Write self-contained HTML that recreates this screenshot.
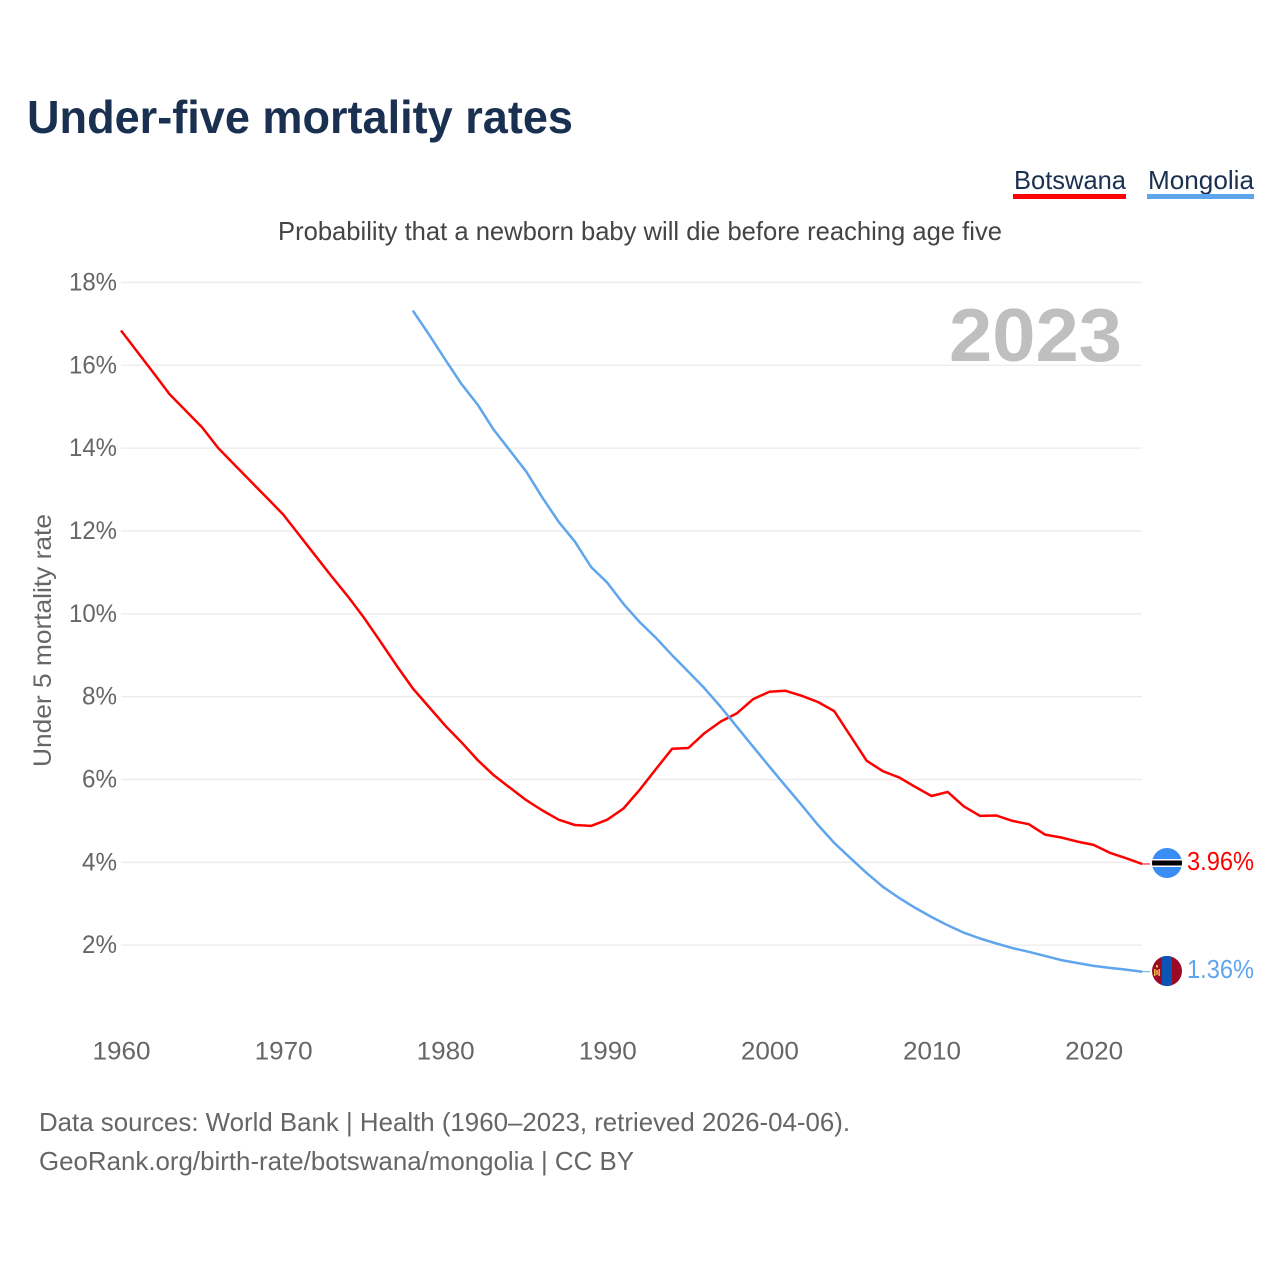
<!DOCTYPE html>
<html lang="en">
<head>
<meta charset="utf-8">
<title>Under-five mortality rates</title>
<style>
html,body{margin:0;padding:0;background:#fff;}
svg{display:block;font-family:"Liberation Sans",sans-serif;}
</style>
</head>
<body>
<svg id="chart" xmlns="http://www.w3.org/2000/svg" width="1280" height="1280" viewBox="0 0 1280 1280">
  <rect width="1280" height="1280" fill="#fff"/>
  <text x="27" y="133" font-size="46" font-weight="700" fill="#1a3050" textLength="546" lengthAdjust="spacingAndGlyphs">Under-five mortality rates</text>
  <g>
    <text x="1014" y="189" font-size="26" fill="#1a3050" textLength="112" lengthAdjust="spacingAndGlyphs">Botswana</text>
    <rect x="1013" y="194" width="113" height="5" fill="#ff0000"/>
  </g>
  <g>
    <text x="1148" y="189" font-size="26" fill="#1a3050" textLength="106" lengthAdjust="spacingAndGlyphs">Mongolia</text>
    <rect x="1147" y="194" width="107" height="5" fill="#5fa5ee"/>
  </g>
  <text x="278" y="240" font-size="26" fill="#444" textLength="724" lengthAdjust="spacingAndGlyphs">Probability that a newborn baby will die before reaching age five</text>
  <g id="grid"></g>
  <g id="yticks"></g>
  <g id="xticks"></g>
  <text x="949" y="361" font-size="75" font-weight="700" fill="#bfbfbf" textLength="173" lengthAdjust="spacingAndGlyphs">2023</text>
  <text transform="translate(51,767) rotate(-90)" x="0" y="0" font-size="25" fill="#666" textLength="253" lengthAdjust="spacingAndGlyphs">Under 5 mortality rate</text>
  <g id="series"></g>
  <defs>
    <clipPath id="clip-bw"><circle cx="1167" cy="863" r="15"/></clipPath>
    <clipPath id="clip-mn"><circle cx="1167" cy="971" r="15"/></clipPath>
  </defs>
  <g id="flag-bw" clip-path="url(#clip-bw)">
    <rect x="1152" y="848" width="30" height="30" fill="#3a8df5"/>
    <rect x="1152" y="859" width="30" height="8" fill="#fff"/>
    <rect x="1152" y="860.5" width="30" height="5" fill="#000"/>
  </g>
  <g id="flag-mn" clip-path="url(#clip-mn)">
    <rect x="1152" y="956" width="30" height="30" fill="#9b0a25"/>
    <rect x="1161.7" y="956" width="10.3" height="30" fill="#0a55b5"/>
    <rect x="1154" y="969" width="1.6" height="7" fill="#e8b84a"/>
    <rect x="1158.4" y="969" width="1.6" height="7" fill="#e8b84a"/>
    <rect x="1156" y="970" width="2" height="5" fill="#e8b84a" opacity="0.8"/>
    <rect x="1156" y="965" width="2" height="2.5" fill="#e8b84a"/>
  </g>
  <text x="1187" y="870" font-size="26" fill="#ff0000" textLength="67" lengthAdjust="spacingAndGlyphs">3.96%</text>
  <text x="1187" y="978" font-size="26" fill="#5fa5ee" textLength="67" lengthAdjust="spacingAndGlyphs">1.36%</text>
  <text x="39" y="1131" font-size="26" fill="#666" textLength="811" lengthAdjust="spacingAndGlyphs">Data sources: World Bank | Health (1960–2023, retrieved 2026-04-06).</text>
  <text x="39" y="1170" font-size="26" fill="#666" textLength="595" lengthAdjust="spacingAndGlyphs">GeoRank.org/birth-rate/botswana/mongolia | CC BY</text>
</svg>
<script>
const yTickValues = [2, 4, 6, 8, 10, 12, 14, 16, 18];
const xTickYears = [1960, 1970, 1980, 1990, 2000, 2010, 2020];
const botswanaStartYear = 1960;
const botswanaValues = [16.84,16.33,15.82,15.3,14.9,14.5,14.0,13.6,13.2,12.8,12.4,11.9,11.4,10.9,10.42,9.9,9.33,8.75,8.2,7.75,7.3,6.9,6.47,6.1,5.8,5.5,5.25,5.03,4.9,4.88,5.03,5.3,5.75,6.25,6.74,6.76,7.12,7.4,7.6,7.94,8.12,8.14,8.02,7.87,7.65,7.05,6.45,6.2,6.05,5.82,5.6,5.7,5.35,5.12,5.13,5.0,4.92,4.67,4.6,4.5,4.42,4.23,4.1,3.96];
const mongoliaStartYear = 1978;
const mongoliaValues = [17.32,16.74,16.14,15.55,15.05,14.44,13.94,13.43,12.8,12.22,11.74,11.13,10.75,10.24,9.8,9.42,9.0,8.6,8.2,7.75,7.27,6.79,6.31,5.84,5.38,4.9,4.47,4.1,3.74,3.41,3.14,2.9,2.68,2.48,2.3,2.16,2.04,1.93,1.84,1.74,1.64,1.57,1.5,1.45,1.41,1.36];

const NS = 'http://www.w3.org/2000/svg';
function xScale(year) { return 121 + (year - 1960) * 16.21; }
function yScale(value) { return 1028 - value * 41.42; }

function make(tag, attrs, parent) {
  const el = document.createElementNS(NS, tag);
  for (const k in attrs) el.setAttribute(k, attrs[k]);
  parent.appendChild(el);
  return el;
}

const grid = document.getElementById('grid');
const yticks = document.getElementById('yticks');
const xticks = document.getElementById('xticks');
const seriesGroup = document.getElementById('series');

yTickValues.forEach(function (v) {
  const line = make('line', { x1: 121, x2: 1142, y1: yScale(v), y2: yScale(v), stroke: '#ebebeb', 'stroke-width': 1.3 }, grid);
  
  
  const label = make('text', { x: 117, y: yScale(v) + 8, 'text-anchor': 'end', 'font-size': 25, fill: '#666', textLength: v >= 10 ? 48 : 35, lengthAdjust: 'spacingAndGlyphs' }, yticks);
  label.textContent = v + '%';
  
  
});

xTickYears.forEach(function (yr) {
  const label = make('text', { x: xScale(yr) + 0.5, y: 1059.5, 'text-anchor': 'middle', 'font-size': 25, fill: '#666', textLength: 58, lengthAdjust: 'spacingAndGlyphs' }, xticks);
  label.textContent = String(yr);
  
  
});

function pathFor(values, startYear) {
  return values.map(function (v, i) {
    return (i ? 'L' : 'M') + xScale(startYear + i).toFixed(1) + ' ' + yScale(v).toFixed(1);
  }).join(' ');
}

const botswanaLine = make('path', { d: pathFor(botswanaValues, botswanaStartYear), fill: 'none', stroke: '#ff0000', 'stroke-width': 2.5, 'stroke-linejoin': 'round' }, seriesGroup);



const mongoliaLine = make('path', { d: pathFor(mongoliaValues, mongoliaStartYear), fill: 'none', stroke: '#5fa5ee', 'stroke-width': 2.5, 'stroke-linejoin': 'round' }, seriesGroup);



const botswanaLast = botswanaValues[botswanaValues.length - 1];
const mongoliaLast = mongoliaValues[mongoliaValues.length - 1];

const botswanaConnector = make('line', { x1: xScale(2023), x2: 1150, y1: yScale(botswanaLast), y2: yScale(botswanaLast), stroke: '#ff0000', 'stroke-width': 1 }, seriesGroup);



const mongoliaConnector = make('line', { x1: xScale(2023), x2: 1150, y1: yScale(mongoliaLast), y2: yScale(mongoliaLast), stroke: '#5fa5ee', 'stroke-width': 1 }, seriesGroup);


</script>
</body>
</html>
